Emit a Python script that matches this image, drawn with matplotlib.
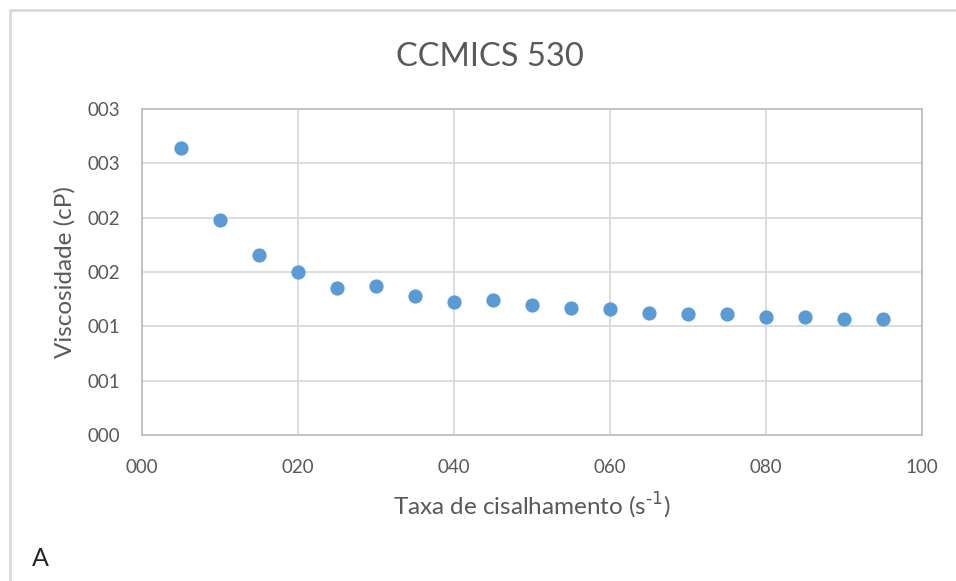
import matplotlib.pyplot as plt
from matplotlib.lines import Line2D

# shear rate (s^-1) and viscosity (cP)
shear_rate = [5, 10, 15, 20, 25, 30, 35, 40, 45, 50, 55, 60, 65, 70, 75, 80, 85, 90, 95]
viscosity = [2.64, 1.975, 1.66, 1.50, 1.35, 1.37, 1.28, 1.22, 1.24, 1.20,
             1.165, 1.16, 1.125, 1.11, 1.11, 1.09, 1.09, 1.07, 1.07]

x_ticks = [0, 20, 40, 60, 80, 100]
x_labels = ["000", "020", "040", "060", "080", "100"]
y_ticks = [0, 0.5, 1.0, 1.5, 2.0, 2.5, 3.0]
y_labels = ["000", "001", "001", "002", "002", "003", "003"]

plt.rcParams['font.family'] = ['Lato', 'DejaVu Sans']
text_color = "#595959"

fig = plt.figure(figsize=(9.56, 5.81), dpi=100)
ax = fig.add_axes([142 / 956, 1 - 435 / 581, 780 / 956, 326 / 581])

ax.scatter(shear_rate, viscosity, s=105, color="#5b9bd5", zorder=3, linewidths=0)

ax.set_xlim(0, 100)
ax.set_ylim(0, 3)
ax.set_xticks(x_ticks)
ax.set_xticklabels(x_labels)
ax.set_yticks(y_ticks)
ax.set_yticklabels(y_labels)
ax.tick_params(length=0, labelsize=13.5, labelcolor=text_color)
ax.tick_params(axis="y", pad=16)
ax.tick_params(axis="x", pad=17)
ax.grid(True, color="#d9d9d9", linewidth=1.3)
ax.set_axisbelow(True)
for sp in ax.spines.values():
  sp.set_color("#bfbfbf")
  sp.set_linewidth(1.3)

ax.set_xlabel("Taxa de cisalhamento (s$^{\\text{-1}}$)", fontsize=17.5,
              color=text_color, labelpad=11)
ax.set_ylabel("Viscosidade (cP)", fontsize=17.5, color=text_color, labelpad=8)

fig.text(490 / 956, 1 - 57 / 581, "CCMICS 530", fontsize=23.5, color=text_color,
         ha="center", va="center")
fig.text(40 / 956, 1 - 558 / 581, "A", fontsize=18, color="#262626", ha="center", va="center")

# outer frame (top and left edges visible)
fig.add_artist(Line2D([10 / 956, 10 / 956, 1], [0, 1 - 10 / 581, 1 - 10 / 581],
                      transform=fig.transFigure, color="#d9d9d9", linewidth=2))

fig.savefig("out.png", dpi=100)
